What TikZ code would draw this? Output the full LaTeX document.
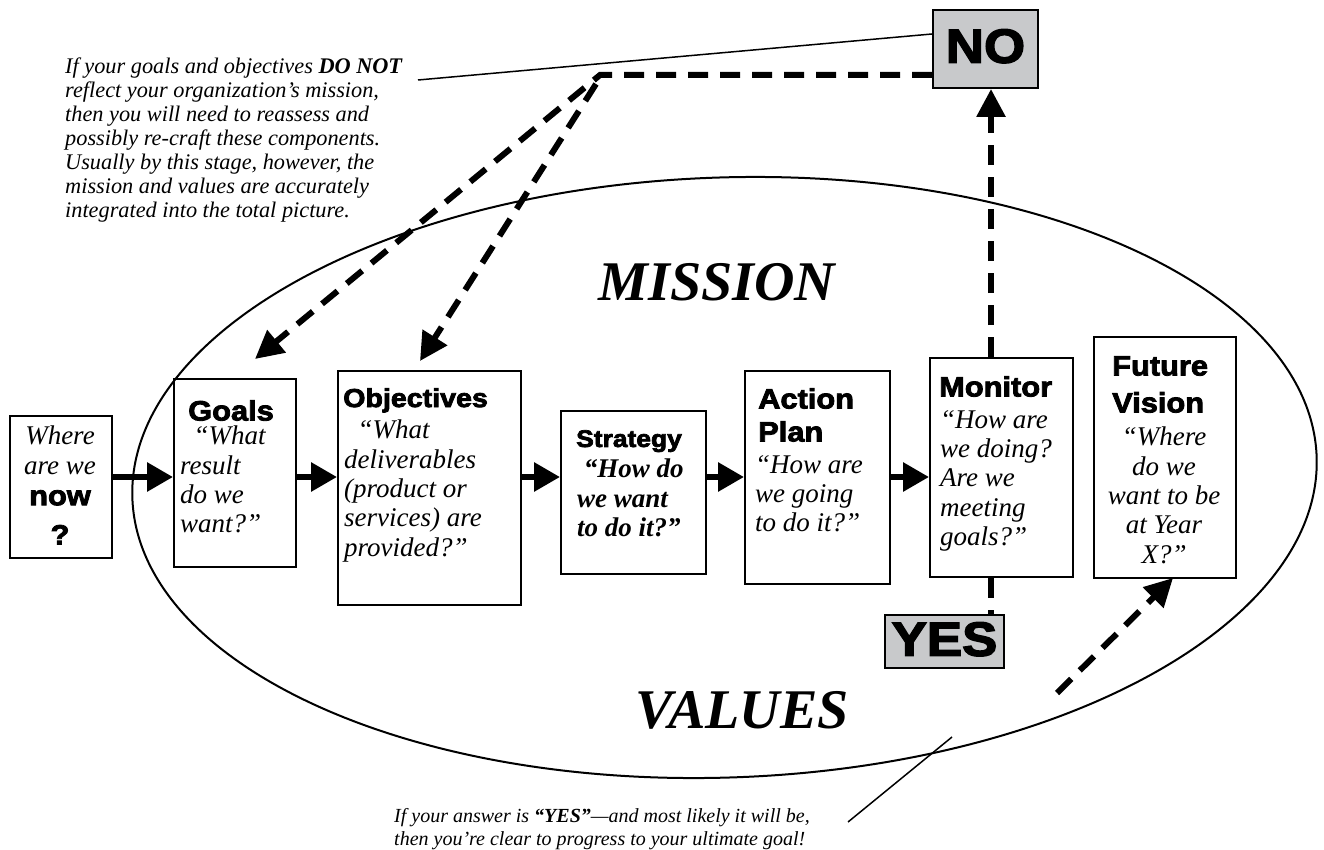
\documentclass[tikz,border=0pt]{standalone}
\usepackage{fontspec}
\setmainfont{Liberation Serif}
\newfontfamily\hdfont{Liberation Sans}[FakeBold=3,FakeStretch=1.1]
\usetikzlibrary{arrows.meta}
\definecolor{boxgray}{RGB}{200,201,203}
\newcommand\hdsz{\fontsize{28}{33}\selectfont\hdfont\bfseries}
\newcommand\bdsz{\fontsize{27}{29.3}\selectfont\itshape}
\begin{document}
\begin{tikzpicture}[x=1pt,y=-1pt,
  box/.style={draw, line width=2pt, inner sep=0pt, anchor=north west},
  gbox/.style={draw, line width=2pt, fill=boxgray, inner sep=0pt, font=\fontsize{48}{48}\selectfont\hdfont\bfseries},
  flow/.style={line width=6pt, -{Triangle[length=26pt,width=28pt]}},
  dsh/.style={line width=6pt, dash pattern=on 20pt off 12pt},
  dsharrow/.style={dsh, -{Triangle[length=28pt,width=28pt]}},
  leader/.style={line width=1.5pt},
  hd/.style={anchor=north west, inner sep=0pt, align=left, font=\hdsz},
  bd/.style={anchor=north west, inner sep=0pt, align=left, font=\bdsz},
  note/.style={anchor=north west, inner sep=0pt, align=left}]
\useasboundingbox (0,0) rectangle (1324,850);

% ellipse
\draw[line width=2pt, rotate around={2:(724.5,477.5)}] (724.5,477.5) ellipse [x radius=592.5pt, y radius=300pt];

\node[font=\fontsize{56}{60}\selectfont\bfseries\itshape] (mission) at (717,282) {MISSION};
\node[font=\fontsize{56}{60}\selectfont\bfseries\itshape] (values) at (742,710) {VALUES};

% boxes
\node[box, minimum width=102pt, minimum height=142pt] (where) at (9,415) {};
\node[box, minimum width=122pt, minimum height=188pt] (goals) at (173,378) {};
\node[box, minimum width=183pt, minimum height=234pt] (objectives) at (337,370) {};
\node[box, minimum width=145pt, minimum height=163pt] (strategy) at (560,410) {};
\node[box, minimum width=145pt, minimum height=213pt] (action) at (744,370) {};
\node[box, minimum width=143pt, minimum height=219pt] (monitor) at (929,357) {};
\node[box, minimum width=142pt, minimum height=241pt] (future) at (1093,336) {};
\node[gbox, minimum width=105pt, minimum height=78pt] (no) at (985.5,49) {\raisebox{6pt}{NO}};
\node[gbox, minimum width=119pt, minimum height=53pt] (yes) at (944.5,641.5) {\raisebox{5pt}{YES}};

% box texts
\node[anchor=north, inner sep=0pt, align=center, font=\bdsz] (whereT) at (60,426)
  {Where\\are we\\[1.7pt]{\upshape\hdsz now}\\[10pt]{\upshape\hdsz ?}};
\node[hd] (goalsH) at (188,400) {Goals};
\node[bd] (goalsT) at (180,426) {\ \ “What\\result\\do we\\want?”};
\node[hd, font=\fontsize{26}{32}\selectfont\hdfont\bfseries] (objH) at (343,388) {Objectives};
\node[bd] (objT) at (344,420) {\ \ “What\\deliverables\\(product or\\services) are\\provided?”};
\node[hd, font=\fontsize{24}{28}\selectfont\hdfont\bfseries] (stratH) at (576,430) {Strategy};
\node[bd, font=\bdsz\bfseries] (stratT) at (577,459) {\ “How do\\we want\\to do it?”};
\node[hd] (actH) at (758,388) {Action\\Plan};
\node[bd] (actT) at (755,455) {“How are\\we going\\to do it?”};
\node[hd] (monH) at (939,376) {Monitor};
\node[bd] (monT) at (940,410) {“How are\\we doing?\\Are we\\meeting\\goals?”};
\node[hd, font=\fontsize{28}{37}\selectfont\hdfont\bfseries] (futH) at (1112,356) {Future\\Vision};
\node[anchor=north, inner sep=0pt, align=center, font=\bdsz] (futT) at (1164,427)
  {“Where\\do we\\want to be\\at Year\\X?”};

% flow arrows
\coordinate (ay) at (0,477);
\draw[flow] (where.east |- ay) -- (goals.west |- ay);
\draw[flow] (goals.east |- ay) -- (objectives.west |- ay);
\draw[flow] (objectives.east |- ay) -- (strategy.west |- ay);
\draw[flow] (strategy.east |- ay) -- (action.west |- ay);
\draw[flow] (action.east |- ay) -- (monitor.west |- ay);

% dashed feedback
\coordinate (corner) at (600,75);
\coordinate (corner2) at (596,84);
\coordinate (gtip) at (255,359);
\coordinate (otip) at (420,361);
\coordinate (vx) at (991,0);
\draw[dsharrow] (no.west |- corner) -- (corner) -- (gtip);
\draw[dsharrow] (corner2) -- (otip);
\draw[dsharrow] (monitor.north -| vx) -- (no.south -| vx);
\draw[dsh] (monitor.south -| vx) -- (yes.north -| vx);
\coordinate (ytail) at (1057,693);
\coordinate (ftip) at (1173,578);
\draw[dsharrow] (ytail) -- (ftip);

% notes
\node[note, font=\fontsize{22.3}{24}\selectfont\itshape] (note1) at (65,57.5)
  {If your goals and objectives \textbf{DO NOT}\\reflect your organization’s mission,\\then you will need to reassess and\\possibly re-craft these components.\\Usually by this stage, however, the\\mission and values are accurately\\integrated into the total picture.};
\coordinate (l1) at (418,80);
\draw[leader] (l1) -- ([yshift=15pt]no.west);

\node[note, font=\fontsize{20}{23}\selectfont\itshape] (note2) at (394,808)
  {If your answer is \textbf{“YES”}—and most likely it will be,\\then you’re clear to progress to your ultimate goal!};
\coordinate (l2a) at (848,822);
\coordinate (l2b) at (952,737);
\draw[leader] (l2a) -- (l2b);
\end{tikzpicture}
\end{document}
